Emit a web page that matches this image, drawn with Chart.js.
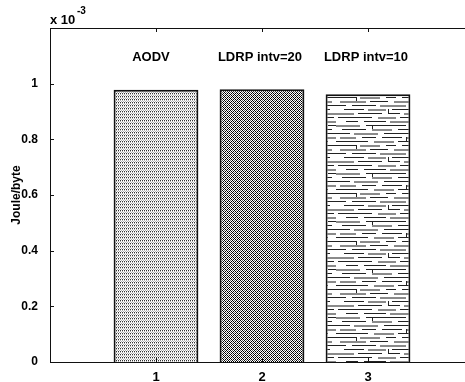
<!DOCTYPE html>
<html>
<head>
<meta charset="utf-8">
<script src="https://cdn.jsdelivr.net/npm/chart.js@4"></script>
<style>
  body { margin: 0; overflow: hidden; background: #fff; }
  #wrap { width: 480px; height: 382px; }
</style>
</head>
<body>
<div id="wrap"><canvas id="energy-chart" width="480" height="382"></canvas></div>
<script>
// values are in units of 1e-3 Joule/byte
const positions = [1, 2, 3];
const energy = [0.978, 0.980, 0.962];
const barLabels = ["AODV", "LDRP intv=20", "LDRP intv=10"];
const yTicks = [0, 0.2, 0.4, 0.6, 0.8, 1];
const xTicks = [1, 2, 3];

const FONT = "'Liberation Sans', Arial, sans-serif";

function makePattern(w, h, draw) {
  const c = document.createElement("canvas");
  c.width = w;
  c.height = h;
  const g = c.getContext("2d");
  g.fillStyle = "#fff";
  g.fillRect(0, 0, w, h);
  draw(g);
  return c.getContext("2d").createPattern(c, "repeat");
}

// fine dotted fill
const dots = makePattern(2, 3, function (g) {
  g.fillStyle = "#333"; g.fillRect(0, 0, 1, 1);
  g.fillStyle = "#b0b0b0"; g.fillRect(0, 1, 1, 1); g.fillRect(1, 2, 1, 1);
});

// cross hatch
const hatch = makePattern(4, 4, function (g) {
  g.fillStyle = "#000";
  for (let x = 0; x < 4; x++) {
    for (let y = 0; y < 4; y++) {
      if ((x + y) % 4 === 0 || (x - y + 4) % 4 === 0) g.fillRect(x, y, 1, 1);
    }
  }
  g.fillStyle = "#666";
  g.fillRect(2, 0, 1, 1); g.fillRect(0, 2, 1, 1);
});

// brick-like dashes
const bricks = makePattern(84, 48, function (g) {
  const rows = [
    [["k", 0, 20], ["g", 24, 44], ["k", 50, 60], ["k", 66, 84]],
    [["g", 4, 30], ["k", 34, 52], ["g", 58, 80]],
    [["k", 0, 10], ["k", 16, 40], ["g", 44, 70], ["k", 74, 84]],
    [["k", 8, 28], ["g", 32, 50], ["k", 56, 78]],
    [["g", 0, 18], ["k", 22, 46], ["k", 52, 64], ["g", 68, 84]],
    [["k", 2, 36], ["g", 42, 60], ["k", 64, 82]],
    [["k", 10, 22], ["k", 28, 50], ["g", 54, 84]],
    [["g", 0, 24], ["k", 30, 70], ["k", 76, 84]],
    [["k", 6, 30], ["g", 36, 56], ["k", 62, 80]],
    [["k", 0, 14], ["g", 18, 42], ["k", 48, 84]],
    [["g", 4, 20], ["k", 26, 40], ["k", 46, 66], ["g", 70, 84]],
    [["k", 0, 32], ["g", 38, 58], ["k", 62, 76]]
  ];
  rows.forEach(function (segs, r) {
    const y = r * 4 + 1;
    segs.forEach(function (s) {
      if (s[0] === "k") { g.fillStyle = "#222"; g.fillRect(s[1], y, s[2] - s[1], 1); }
      else { g.fillStyle = "#8a8a8a"; g.fillRect(s[1], y, s[2] - s[1], 2); }
    });
  });
  g.fillStyle = "#222";
  g.fillRect(20, 1, 1, 4); g.fillRect(52, 13, 1, 4);
  g.fillRect(36, 29, 1, 4); g.fillRect(70, 41, 1, 4);
});

const frame = {
  id: "frame",
  afterDraw(chart) {
    const ctx = chart.ctx;
    const a = chart.chartArea;
    const xs = chart.scales.x, ys = chart.scales.y;
    ctx.save();
    ctx.strokeStyle = "#111";
    ctx.lineWidth = 1;
    ctx.beginPath();
    ctx.moveTo(a.left + 0.5, a.top + 0.5);
    ctx.lineTo(a.right, a.top + 0.5);
    ctx.moveTo(a.left + 0.5, a.top);
    ctx.lineTo(a.left + 0.5, a.bottom + 0.5);
    ctx.lineTo(a.right, a.bottom + 0.5);
    yTicks.forEach(function (v) {
      const y = Math.round(ys.getPixelForValue(v)) + 0.5;
      ctx.moveTo(a.left, y); ctx.lineTo(a.left + 4, y);
    });
    xTicks.forEach(function (v) {
      const x = Math.round(xs.getPixelForValue(v)) + 0.5;
      ctx.moveTo(x, a.top); ctx.lineTo(x, a.top + 4);
      ctx.moveTo(x, a.bottom); ctx.lineTo(x, a.bottom - 4);
    });
    ctx.stroke();

    ctx.fillStyle = "#000";
    ctx.textBaseline = "middle";
    ctx.textAlign = "center";
    ctx.font = "bold 13px " + FONT;
    barLabels.forEach(function (t, i) {
      ctx.fillText(t, xs.getPixelForValue(positions[i]) - (i === 0 ? 5 : 2), ys.getPixelForValue(1.093));
    });

    ctx.textAlign = "left";
    ctx.textBaseline = "alphabetic";
    ctx.font = "bold 13px " + FONT;
    ctx.fillText("x 10", 50, 24);
    ctx.font = "bold 10px " + FONT;
    ctx.fillText("-3", 77, 14);

    ctx.translate(17, (a.top + a.bottom) / 2);
    ctx.rotate(-Math.PI / 2);
    ctx.textAlign = "center";
    ctx.textBaseline = "middle";
    ctx.font = "bold 12px " + FONT;
    ctx.fillText("Joule/byte", 0, 0);
    ctx.restore();
  }
};

new Chart(document.getElementById("energy-chart"), {
  type: "bar",
  data: {
    datasets: [{
      data: positions.map(function (x, i) { return { x: x, y: energy[i] }; }),
      backgroundColor: [dots, hatch, bricks],
      borderColor: "#111",
      borderWidth: 2,
      barPercentage: 0.8,
      categoryPercentage: 1
    }]
  },
  options: {
    responsive: false,
    animation: false,
    layout: { padding: { top: 28, right: 6, left: 0, bottom: 0 } },
    plugins: { legend: { display: false }, tooltip: { enabled: false } },
    scales: {
      x: {
        type: "linear",
        min: 0,
        max: 4,
        offset: false,
        grid: { display: false, offset: false },
        border: { display: false },
        afterBuildTicks: function (s) { s.ticks = xTicks.map(function (v) { return { value: v }; }); },
        afterFit: function (s) { s.height = 20; },
        ticks: { color: "#000", padding: 0, font: { family: FONT, size: 13, weight: "bold" } }
      },
      y: {
        min: 0,
        max: 1.2,
        grid: { display: false },
        border: { display: false },
        afterBuildTicks: function (s) { s.ticks = yTicks.map(function (v) { return { value: v }; }); },
        afterFit: function (s) { s.width = 50; },
        ticks: {
          color: "#000",
          padding: 4,
          font: { family: FONT, size: 12, weight: "bold" },
          callback: function (v) { return String(Math.round(v * 10) / 10); }
        }
      }
    }
  },
  plugins: [frame]
});
</script>
</body>
</html>
